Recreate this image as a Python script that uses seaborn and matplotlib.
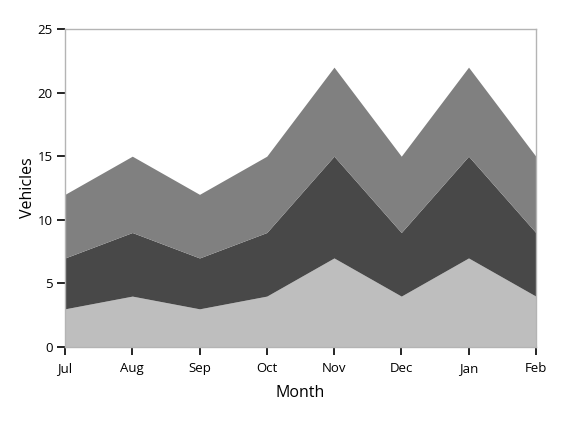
import numpy as np
import pandas as pd
import matplotlib.pyplot as plt
import seaborn as sns

months = ["Jul", "Aug", "Sep", "Oct", "Nov", "Dec", "Jan", "Feb"]
series_a = [3, 4, 3, 4, 7, 4, 7, 4]
series_b = [4, 5, 4, 5, 8, 5, 8, 5]
series_c = [5, 6, 5, 6, 7, 6, 7, 6]

sns.set_style("white")
plt.rcParams['font.family'] = ['Open Sans', 'DejaVu Sans']

fig, ax = plt.subplots(figsize=(5.83, 4.46), dpi=100)
plt.subplots_adjust(left=0.1115, right=0.919, top=0.935, bottom=0.222)

x = np.arange(len(months))
ax.stackplot(x, series_a, series_b, series_c,
             colors=["#bebebe", "#484848", "#808080"], linewidth=0)

ax.set_xlim(0, len(months) - 1)
ax.set_ylim(0, 25)
ax.set_xticks(x)
ax.set_xticklabels(months)
ax.set_yticks([0, 5, 10, 15, 20, 25])

for s in ax.spines.values():
    s.set_color("#b4b4b4")
    s.set_linewidth(1)

ax.tick_params(axis="both", direction="out", length=6, width=1.2, color="black",
               labelsize=9.5, labelcolor="black", left=True, bottom=True)
ax.tick_params(axis="x", pad=5)
ax.tick_params(axis="y", pad=3)
ax.set_xlabel("Month", fontsize=11.5, labelpad=7, color="black")
ax.set_ylabel("Vehicles", fontsize=11.5, labelpad=1, color="black")

plt.savefig("out.png", dpi=100)
